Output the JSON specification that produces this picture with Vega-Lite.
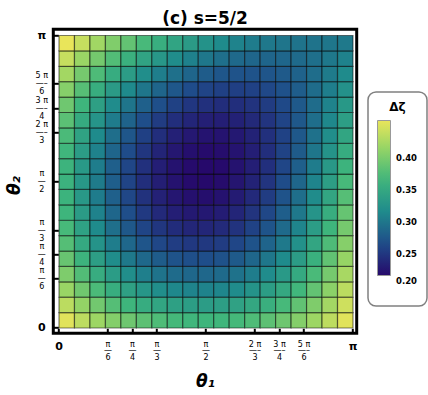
{
"$schema": "https://vega.github.io/schema/vega-lite/v6.json",
"width": 303.4, "height": 304,
"autosize": {"type": "none"},
"padding": {"left": 53.3, "top": 29.3, "right": 71.3, "bottom": 61.7},
"background": "#ffffff",
"title": {"text": "(c)  s=5/2", "font": "DejaVu Sans", "fontSize": 17, "fontWeight": "bold", "color": "#000", "anchor": "middle", "baseline": "alphabetic", "frame": "group", "offset": 5.5, "dy": 17},
"data": {"values": [
{"t1":0,"t2":0,"v":0.4378},{"t1":0,"t2":0.0526,"v":0.418},{"t1":0,"t2":0.1053,"v":0.4006},{"t1":0,"t2":0.1579,"v":0.3856},{"t1":0,"t2":0.2105,"v":0.3729},{"t1":0,"t2":0.2632,"v":0.3626},{"t1":0,"t2":0.3158,"v":0.3547},{"t1":0,"t2":0.3684,"v":0.3491},{"t1":0,"t2":0.4211,"v":0.346},{"t1":0,"t2":0.4737,"v":0.3451},{"t1":0,"t2":0.5263,"v":0.3467},{"t1":0,"t2":0.5789,"v":0.3506},{"t1":0,"t2":0.6316,"v":0.3569},{"t1":0,"t2":0.6842,"v":0.3656},{"t1":0,"t2":0.7368,"v":0.3767},{"t1":0,"t2":0.7895,"v":0.3901},{"t1":0,"t2":0.8421,"v":0.4059},{"t1":0,"t2":0.8947,"v":0.4241},{"t1":0,"t2":0.9474,"v":0.4446},
{"t1":0.0526,"t2":0,"v":0.4192},{"t1":0.0526,"t2":0.0526,"v":0.397},{"t1":0.0526,"t2":0.1053,"v":0.3773},{"t1":0.0526,"t2":0.1579,"v":0.3604},{"t1":0.0526,"t2":0.2105,"v":0.3461},{"t1":0.0526,"t2":0.2632,"v":0.3344},{"t1":0.0526,"t2":0.3158,"v":0.3254},{"t1":0.0526,"t2":0.3684,"v":0.319},{"t1":0.0526,"t2":0.4211,"v":0.3153},{"t1":0.0526,"t2":0.4737,"v":0.3142},{"t1":0.0526,"t2":0.5263,"v":0.3158},{"t1":0.0526,"t2":0.5789,"v":0.32},{"t1":0.0526,"t2":0.6316,"v":0.3269},{"t1":0.0526,"t2":0.6842,"v":0.3365},{"t1":0.0526,"t2":0.7368,"v":0.3486},{"t1":0.0526,"t2":0.7895,"v":0.3635},{"t1":0.0526,"t2":0.8421,"v":0.381},{"t1":0.0526,"t2":0.8947,"v":0.4011},{"t1":0.0526,"t2":0.9474,"v":0.4239},
{"t1":0.1053,"t2":0,"v":0.4028},{"t1":0.1053,"t2":0.0526,"v":0.3784},{"t1":0.1053,"t2":0.1053,"v":0.3569},{"t1":0.1053,"t2":0.1579,"v":0.3383},{"t1":0.1053,"t2":0.2105,"v":0.3225},{"t1":0.1053,"t2":0.2632,"v":0.3096},{"t1":0.1053,"t2":0.3158,"v":0.2997},{"t1":0.1053,"t2":0.3684,"v":0.2926},{"t1":0.1053,"t2":0.4211,"v":0.2883},{"t1":0.1053,"t2":0.4737,"v":0.287},{"t1":0.1053,"t2":0.5263,"v":0.2885},{"t1":0.1053,"t2":0.5789,"v":0.2929},{"t1":0.1053,"t2":0.6316,"v":0.3002},{"t1":0.1053,"t2":0.6842,"v":0.3104},{"t1":0.1053,"t2":0.7368,"v":0.3235},{"t1":0.1053,"t2":0.7895,"v":0.3394},{"t1":0.1053,"t2":0.8421,"v":0.3583},{"t1":0.1053,"t2":0.8947,"v":0.38},{"t1":0.1053,"t2":0.9474,"v":0.4045},
{"t1":0.1579,"t2":0,"v":0.3886},{"t1":0.1579,"t2":0.0526,"v":0.3624},{"t1":0.1579,"t2":0.1053,"v":0.3393},{"t1":0.1579,"t2":0.1579,"v":0.3193},{"t1":0.1579,"t2":0.2105,"v":0.3023},{"t1":0.1579,"t2":0.2632,"v":0.2884},{"t1":0.1579,"t2":0.3158,"v":0.2776},{"t1":0.1579,"t2":0.3684,"v":0.2698},{"t1":0.1579,"t2":0.4211,"v":0.2651},{"t1":0.1579,"t2":0.4737,"v":0.2635},{"t1":0.1579,"t2":0.5263,"v":0.2649},{"t1":0.1579,"t2":0.5789,"v":0.2694},{"t1":0.1579,"t2":0.6316,"v":0.2769},{"t1":0.1579,"t2":0.6842,"v":0.2876},{"t1":0.1579,"t2":0.7368,"v":0.3012},{"t1":0.1579,"t2":0.7895,"v":0.318},{"t1":0.1579,"t2":0.8421,"v":0.3378},{"t1":0.1579,"t2":0.8947,"v":0.3607},{"t1":0.1579,"t2":0.9474,"v":0.3866},
{"t1":0.2105,"t2":0,"v":0.3765},{"t1":0.2105,"t2":0.0526,"v":0.3489},{"t1":0.2105,"t2":0.1053,"v":0.3246},{"t1":0.2105,"t2":0.1579,"v":0.3034},{"t1":0.2105,"t2":0.2105,"v":0.2854},{"t1":0.2105,"t2":0.2632,"v":0.2707},{"t1":0.2105,"t2":0.3158,"v":0.2591},{"t1":0.2105,"t2":0.3684,"v":0.2508},{"t1":0.2105,"t2":0.4211,"v":0.2456},{"t1":0.2105,"t2":0.4737,"v":0.2436},{"t1":0.2105,"t2":0.5263,"v":0.2449},{"t1":0.2105,"t2":0.5789,"v":0.2493},{"t1":0.2105,"t2":0.6316,"v":0.257},{"t1":0.2105,"t2":0.6842,"v":0.2678},{"t1":0.2105,"t2":0.7368,"v":0.2819},{"t1":0.2105,"t2":0.7895,"v":0.2991},{"t1":0.2105,"t2":0.8421,"v":0.3196},{"t1":0.2105,"t2":0.8947,"v":0.3432},{"t1":0.2105,"t2":0.9474,"v":0.3701},
{"t1":0.2632,"t2":0,"v":0.3667},{"t1":0.2632,"t2":0.0526,"v":0.338},{"t1":0.2632,"t2":0.1053,"v":0.3127},{"t1":0.2632,"t2":0.1579,"v":0.2907},{"t1":0.2632,"t2":0.2105,"v":0.2719},{"t1":0.2632,"t2":0.2632,"v":0.2564},{"t1":0.2632,"t2":0.3158,"v":0.2443},{"t1":0.2632,"t2":0.3684,"v":0.2354},{"t1":0.2632,"t2":0.4211,"v":0.2298},{"t1":0.2632,"t2":0.4737,"v":0.2275},{"t1":0.2632,"t2":0.5263,"v":0.2285},{"t1":0.2632,"t2":0.5789,"v":0.2328},{"t1":0.2632,"t2":0.6316,"v":0.2404},{"t1":0.2632,"t2":0.6842,"v":0.2512},{"t1":0.2632,"t2":0.7368,"v":0.2654},{"t1":0.2632,"t2":0.7895,"v":0.2828},{"t1":0.2632,"t2":0.8421,"v":0.3036},{"t1":0.2632,"t2":0.8947,"v":0.3276},{"t1":0.2632,"t2":0.9474,"v":0.3549},
{"t1":0.3158,"t2":0,"v":0.359},{"t1":0.3158,"t2":0.0526,"v":0.3297},{"t1":0.3158,"t2":0.1053,"v":0.3037},{"t1":0.3158,"t2":0.1579,"v":0.281},{"t1":0.3158,"t2":0.2105,"v":0.2617},{"t1":0.3158,"t2":0.2632,"v":0.2457},{"t1":0.3158,"t2":0.3158,"v":0.233},{"t1":0.3158,"t2":0.3684,"v":0.2237},{"t1":0.3158,"t2":0.4211,"v":0.2177},{"t1":0.3158,"t2":0.4737,"v":0.2151},{"t1":0.3158,"t2":0.5263,"v":0.2158},{"t1":0.3158,"t2":0.5789,"v":0.2198},{"t1":0.3158,"t2":0.6316,"v":0.2271},{"t1":0.3158,"t2":0.6842,"v":0.2378},{"t1":0.3158,"t2":0.7368,"v":0.2518},{"t1":0.3158,"t2":0.7895,"v":0.2691},{"t1":0.3158,"t2":0.8421,"v":0.2898},{"t1":0.3158,"t2":0.8947,"v":0.3138},{"t1":0.3158,"t2":0.9474,"v":0.3412},
{"t1":0.3684,"t2":0,"v":0.3536},{"t1":0.3684,"t2":0.0526,"v":0.3239},{"t1":0.3684,"t2":0.1053,"v":0.2975},{"t1":0.3684,"t2":0.1579,"v":0.2745},{"t1":0.3684,"t2":0.2105,"v":0.2548},{"t1":0.3684,"t2":0.2632,"v":0.2385},{"t1":0.3684,"t2":0.3158,"v":0.2254},{"t1":0.3684,"t2":0.3684,"v":0.2158},{"t1":0.3684,"t2":0.4211,"v":0.2094},{"t1":0.3684,"t2":0.4737,"v":0.2064},{"t1":0.3684,"t2":0.5263,"v":0.2067},{"t1":0.3684,"t2":0.5789,"v":0.2103},{"t1":0.3684,"t2":0.6316,"v":0.2172},{"t1":0.3684,"t2":0.6842,"v":0.2275},{"t1":0.3684,"t2":0.7368,"v":0.2411},{"t1":0.3684,"t2":0.7895,"v":0.2581},{"t1":0.3684,"t2":0.8421,"v":0.2783},{"t1":0.3684,"t2":0.8947,"v":0.3019},{"t1":0.3684,"t2":0.9474,"v":0.3289},
{"t1":0.4211,"t2":0,"v":0.3503},{"t1":0.4211,"t2":0.0526,"v":0.3206},{"t1":0.4211,"t2":0.1053,"v":0.2942},{"t1":0.4211,"t2":0.1579,"v":0.2711},{"t1":0.4211,"t2":0.2105,"v":0.2513},{"t1":0.4211,"t2":0.2632,"v":0.2347},{"t1":0.4211,"t2":0.3158,"v":0.2215},{"t1":0.4211,"t2":0.3684,"v":0.2115},{"t1":0.4211,"t2":0.4211,"v":0.2048},{"t1":0.4211,"t2":0.4737,"v":0.2013},{"t1":0.4211,"t2":0.5263,"v":0.2012},{"t1":0.4211,"t2":0.5789,"v":0.2043},{"t1":0.4211,"t2":0.6316,"v":0.2107},{"t1":0.4211,"t2":0.6842,"v":0.2204},{"t1":0.4211,"t2":0.7368,"v":0.2333},{"t1":0.4211,"t2":0.7895,"v":0.2496},{"t1":0.4211,"t2":0.8421,"v":0.2691},{"t1":0.4211,"t2":0.8947,"v":0.2919},{"t1":0.4211,"t2":0.9474,"v":0.318},
{"t1":0.4737,"t2":0,"v":0.3492},{"t1":0.4737,"t2":0.0526,"v":0.3199},{"t1":0.4737,"t2":0.1053,"v":0.2938},{"t1":0.4737,"t2":0.1579,"v":0.2708},{"t1":0.4737,"t2":0.2105,"v":0.2511},{"t1":0.4737,"t2":0.2632,"v":0.2345},{"t1":0.4737,"t2":0.3158,"v":0.2211},{"t1":0.4737,"t2":0.3684,"v":0.2109},{"t1":0.4737,"t2":0.4211,"v":0.2039},{"t1":0.4737,"t2":0.4737,"v":0.2},{"t1":0.4737,"t2":0.5263,"v":0.1993},{"t1":0.4737,"t2":0.5789,"v":0.2018},{"t1":0.4737,"t2":0.6316,"v":0.2075},{"t1":0.4737,"t2":0.6842,"v":0.2164},{"t1":0.4737,"t2":0.7368,"v":0.2284},{"t1":0.4737,"t2":0.7895,"v":0.2437},{"t1":0.4737,"t2":0.8421,"v":0.2621},{"t1":0.4737,"t2":0.8947,"v":0.2837},{"t1":0.4737,"t2":0.9474,"v":0.3084},
{"t1":0.5263,"t2":0,"v":0.3503},{"t1":0.5263,"t2":0.0526,"v":0.3217},{"t1":0.5263,"t2":0.1053,"v":0.2962},{"t1":0.5263,"t2":0.1579,"v":0.2737},{"t1":0.5263,"t2":0.2105,"v":0.2542},{"t1":0.5263,"t2":0.2632,"v":0.2378},{"t1":0.5263,"t2":0.3158,"v":0.2244},{"t1":0.5263,"t2":0.3684,"v":0.214},{"t1":0.5263,"t2":0.4211,"v":0.2067},{"t1":0.5263,"t2":0.4737,"v":0.2024},{"t1":0.5263,"t2":0.5263,"v":0.2011},{"t1":0.5263,"t2":0.5789,"v":0.2029},{"t1":0.5263,"t2":0.6316,"v":0.2077},{"t1":0.5263,"t2":0.6842,"v":0.2156},{"t1":0.5263,"t2":0.7368,"v":0.2264},{"t1":0.5263,"t2":0.7895,"v":0.2404},{"t1":0.5263,"t2":0.8421,"v":0.2573},{"t1":0.5263,"t2":0.8947,"v":0.2773},{"t1":0.5263,"t2":0.9474,"v":0.3003},
{"t1":0.5789,"t2":0,"v":0.3535},{"t1":0.5789,"t2":0.0526,"v":0.326},{"t1":0.5789,"t2":0.1053,"v":0.3014},{"t1":0.5789,"t2":0.1579,"v":0.2796},{"t1":0.5789,"t2":0.2105,"v":0.2606},{"t1":0.5789,"t2":0.2632,"v":0.2445},{"t1":0.5789,"t2":0.3158,"v":0.2312},{"t1":0.5789,"t2":0.3684,"v":0.2208},{"t1":0.5789,"t2":0.4211,"v":0.2132},{"t1":0.5789,"t2":0.4737,"v":0.2085},{"t1":0.5789,"t2":0.5263,"v":0.2065},{"t1":0.5789,"t2":0.5789,"v":0.2075},{"t1":0.5789,"t2":0.6316,"v":0.2113},{"t1":0.5789,"t2":0.6842,"v":0.2179},{"t1":0.5789,"t2":0.7368,"v":0.2273},{"t1":0.5789,"t2":0.7895,"v":0.2396},{"t1":0.5789,"t2":0.8421,"v":0.2548},{"t1":0.5789,"t2":0.8947,"v":0.2728},{"t1":0.5789,"t2":0.9474,"v":0.2936},
{"t1":0.6316,"t2":0,"v":0.359},{"t1":0.6316,"t2":0.0526,"v":0.333},{"t1":0.6316,"t2":0.1053,"v":0.3095},{"t1":0.6316,"t2":0.1579,"v":0.2887},{"t1":0.6316,"t2":0.2105,"v":0.2704},{"t1":0.6316,"t2":0.2632,"v":0.2548},{"t1":0.6316,"t2":0.3158,"v":0.2417},{"t1":0.6316,"t2":0.3684,"v":0.2313},{"t1":0.6316,"t2":0.4211,"v":0.2235},{"t1":0.6316,"t2":0.4737,"v":0.2182},{"t1":0.6316,"t2":0.5263,"v":0.2156},{"t1":0.6316,"t2":0.5789,"v":0.2156},{"t1":0.6316,"t2":0.6316,"v":0.2182},{"t1":0.6316,"t2":0.6842,"v":0.2233},{"t1":0.6316,"t2":0.7368,"v":0.2311},{"t1":0.6316,"t2":0.7895,"v":0.2415},{"t1":0.6316,"t2":0.8421,"v":0.2545},{"t1":0.6316,"t2":0.8947,"v":0.2701},{"t1":0.6316,"t2":0.9474,"v":0.2883},
{"t1":0.6842,"t2":0,"v":0.3667},{"t1":0.6842,"t2":0.0526,"v":0.3424},{"t1":0.6842,"t2":0.1053,"v":0.3205},{"t1":0.6842,"t2":0.1579,"v":0.3009},{"t1":0.6842,"t2":0.2105,"v":0.2835},{"t1":0.6842,"t2":0.2632,"v":0.2686},{"t1":0.6842,"t2":0.3158,"v":0.2559},{"t1":0.6842,"t2":0.3684,"v":0.2455},{"t1":0.6842,"t2":0.4211,"v":0.2375},{"t1":0.6842,"t2":0.4737,"v":0.2317},{"t1":0.6842,"t2":0.5263,"v":0.2283},{"t1":0.6842,"t2":0.5789,"v":0.2272},{"t1":0.6842,"t2":0.6316,"v":0.2284},{"t1":0.6842,"t2":0.6842,"v":0.2319},{"t1":0.6842,"t2":0.7368,"v":0.2378},{"t1":0.6842,"t2":0.7895,"v":0.246},{"t1":0.6842,"t2":0.8421,"v":0.2565},{"t1":0.6842,"t2":0.8947,"v":0.2692},{"t1":0.6842,"t2":0.9474,"v":0.2844},
{"t1":0.7368,"t2":0,"v":0.3766},{"t1":0.7368,"t2":0.0526,"v":0.3544},{"t1":0.7368,"t2":0.1053,"v":0.3343},{"t1":0.7368,"t2":0.1579,"v":0.3162},{"t1":0.7368,"t2":0.2105,"v":0.3},{"t1":0.7368,"t2":0.2632,"v":0.2858},{"t1":0.7368,"t2":0.3158,"v":0.2736},{"t1":0.7368,"t2":0.3684,"v":0.2634},{"t1":0.7368,"t2":0.4211,"v":0.2551},{"t1":0.7368,"t2":0.4737,"v":0.2489},{"t1":0.7368,"t2":0.5263,"v":0.2446},{"t1":0.7368,"t2":0.5789,"v":0.2423},{"t1":0.7368,"t2":0.6316,"v":0.242},{"t1":0.7368,"t2":0.6842,"v":0.2437},{"t1":0.7368,"t2":0.7368,"v":0.2474},{"t1":0.7368,"t2":0.7895,"v":0.253},{"t1":0.7368,"t2":0.8421,"v":0.2606},{"t1":0.7368,"t2":0.8947,"v":0.2703},{"t1":0.7368,"t2":0.9474,"v":0.2819},
{"t1":0.7895,"t2":0,"v":0.3886},{"t1":0.7895,"t2":0.0526,"v":0.369},{"t1":0.7895,"t2":0.1053,"v":0.351},{"t1":0.7895,"t2":0.1579,"v":0.3346},{"t1":0.7895,"t2":0.2105,"v":0.3198},{"t1":0.7895,"t2":0.2632,"v":0.3066},{"t1":0.7895,"t2":0.3158,"v":0.295},{"t1":0.7895,"t2":0.3684,"v":0.285},{"t1":0.7895,"t2":0.4211,"v":0.2766},{"t1":0.7895,"t2":0.4737,"v":0.2698},{"t1":0.7895,"t2":0.5263,"v":0.2646},{"t1":0.7895,"t2":0.5789,"v":0.261},{"t1":0.7895,"t2":0.6316,"v":0.259},{"t1":0.7895,"t2":0.6842,"v":0.2586},{"t1":0.7895,"t2":0.7368,"v":0.2598},{"t1":0.7895,"t2":0.7895,"v":0.2627},{"t1":0.7895,"t2":0.8421,"v":0.2671},{"t1":0.7895,"t2":0.8947,"v":0.2731},{"t1":0.7895,"t2":0.9474,"v":0.2807},
{"t1":0.8421,"t2":0,"v":0.4028},{"t1":0.8421,"t2":0.0526,"v":0.3861},{"t1":0.8421,"t2":0.1053,"v":0.3705},{"t1":0.8421,"t2":0.1579,"v":0.3561},{"t1":0.8421,"t2":0.2105,"v":0.3429},{"t1":0.8421,"t2":0.2632,"v":0.3308},{"t1":0.8421,"t2":0.3158,"v":0.3199},{"t1":0.8421,"t2":0.3684,"v":0.3102},{"t1":0.8421,"t2":0.4211,"v":0.3017},{"t1":0.8421,"t2":0.4737,"v":0.2943},{"t1":0.8421,"t2":0.5263,"v":0.2882},{"t1":0.8421,"t2":0.5789,"v":0.2832},{"t1":0.8421,"t2":0.6316,"v":0.2793},{"t1":0.8421,"t2":0.6842,"v":0.2767},{"t1":0.8421,"t2":0.7368,"v":0.2752},{"t1":0.8421,"t2":0.7895,"v":0.2749},{"t1":0.8421,"t2":0.8421,"v":0.2758},{"t1":0.8421,"t2":0.8947,"v":0.2778},{"t1":0.8421,"t2":0.9474,"v":0.281},
{"t1":0.8947,"t2":0,"v":0.4193},{"t1":0.8947,"t2":0.0526,"v":0.4057},{"t1":0.8947,"t2":0.1053,"v":0.3929},{"t1":0.8947,"t2":0.1579,"v":0.3808},{"t1":0.8947,"t2":0.2105,"v":0.3693},{"t1":0.8947,"t2":0.2632,"v":0.3586},{"t1":0.8947,"t2":0.3158,"v":0.3485},{"t1":0.8947,"t2":0.3684,"v":0.3392},{"t1":0.8947,"t2":0.4211,"v":0.3306},{"t1":0.8947,"t2":0.4737,"v":0.3226},{"t1":0.8947,"t2":0.5263,"v":0.3154},{"t1":0.8947,"t2":0.5789,"v":0.3089},{"t1":0.8947,"t2":0.6316,"v":0.303},{"t1":0.8947,"t2":0.6842,"v":0.2979},{"t1":0.8947,"t2":0.7368,"v":0.2934},{"t1":0.8947,"t2":0.7895,"v":0.2897},{"t1":0.8947,"t2":0.8421,"v":0.2867},{"t1":0.8947,"t2":0.8947,"v":0.2844},{"t1":0.8947,"t2":0.9474,"v":0.2827},
{"t1":0.9474,"t2":0,"v":0.4379},{"t1":0.9474,"t2":0.0526,"v":0.4279},{"t1":0.9474,"t2":0.1053,"v":0.4181},{"t1":0.9474,"t2":0.1579,"v":0.4085},{"t1":0.9474,"t2":0.2105,"v":0.3991},{"t1":0.9474,"t2":0.2632,"v":0.3898},{"t1":0.9474,"t2":0.3158,"v":0.3808},{"t1":0.9474,"t2":0.3684,"v":0.3719},{"t1":0.9474,"t2":0.4211,"v":0.3632},{"t1":0.9474,"t2":0.4737,"v":0.3546},{"t1":0.9474,"t2":0.5263,"v":0.3463},{"t1":0.9474,"t2":0.5789,"v":0.3381},{"t1":0.9474,"t2":0.6316,"v":0.3301},{"t1":0.9474,"t2":0.6842,"v":0.3222},{"t1":0.9474,"t2":0.7368,"v":0.3146},{"t1":0.9474,"t2":0.7895,"v":0.3071},{"t1":0.9474,"t2":0.8421,"v":0.2999},{"t1":0.9474,"t2":0.8947,"v":0.2928},{"t1":0.9474,"t2":0.9474,"v":0.2858}
]},
"mark": {"type": "rect", "stroke": "#000", "strokeOpacity": 0.5, "strokeWidth": 1.2},
"encoding": {
"x": {"field": "t1", "type": "quantitative", "bin": {"binned": true, "step": 0.052632},
 "scale": {"domain": [-0.0177, 1.0143], "nice": false, "zero": false},
 "axis": {"values": [0, 0.16667, 0.25, 0.33333, 0.5, 0.66667, 0.75, 0.83333, 1],
  "labelExpr": "datum.value<0.01 ? '0' : datum.value>0.99 ? 'π' : abs(datum.value-0.5)<0.01 ? ['π','—','2'] : abs(datum.value-0.16667)<0.01 ? ['π','—','6'] : abs(datum.value-0.25)<0.01 ? ['π','—','4'] : abs(datum.value-0.33333)<0.01 ? ['π','—','3'] : abs(datum.value-0.66667)<0.01 ? ['2 π','—–','3'] : abs(datum.value-0.75)<0.01 ? ['3 π','—–','4'] : ['5 π','—–','6']",
  "labelBaseline": "top", "labelAlign": "center", "labelPadding": 12, "labelLineHeight": 6.5,
  "labelFontSize": {"condition": {"test": "datum.value<0.01 || datum.value>0.99", "value": 11}, "value": 8},
  "labelFontWeight": {"condition": {"test": "datum.value<0.01 || datum.value>0.99", "value": "bold"}, "value": "normal"},
  "title": "θ₁", "titleFontSize": 17, "titleFontWeight": "bold", "titleFontStyle": "italic",
  "titleX": 151.7, "titleY": 53.2, "titleBaseline": "alphabetic", "titleAlign": "center"}},
"y": {"field": "t2", "type": "quantitative", "bin": {"binned": true, "step": 0.052632},
 "scale": {"domain": [-0.0198, 1.0195], "nice": false, "zero": false},
 "axis": {"values": [0, 0.16667, 0.25, 0.33333, 0.5, 0.66667, 0.75, 0.83333, 1],
  "labelExpr": "datum.value<0.01 ? '0' : datum.value>0.99 ? 'π' : abs(datum.value-0.5)<0.01 ? ['π','—','2'] : abs(datum.value-0.16667)<0.01 ? ['π','—','6'] : abs(datum.value-0.25)<0.01 ? ['π','—','4'] : abs(datum.value-0.33333)<0.01 ? ['π','—','3'] : abs(datum.value-0.66667)<0.01 ? ['2 π','—–','3'] : abs(datum.value-0.75)<0.01 ? ['3 π','—–','4'] : ['5 π','—–','6']",
  "labelBaseline": "middle", "labelAlign": "center", "labelPadding": 17, "labelLineHeight": 8,
  "labelOffset": {"condition": {"test": "datum.value<0.01 || datum.value>0.99", "value": 0}, "value": -8},
  "labelFontSize": {"condition": {"test": "datum.value<0.01 || datum.value>0.99", "value": 11}, "value": 8},
  "labelFontWeight": {"condition": {"test": "datum.value<0.01 || datum.value>0.99", "value": "bold"}, "value": "normal"},
  "title": "θ₂", "titleFontSize": 17, "titleFontWeight": "bold", "titleFontStyle": "italic",
  "titleX": -33.8, "titleY": 155.7, "titleBaseline": "alphabetic", "titleAlign": "center", "titleAngle": 270}},
"color": {"field": "v", "type": "quantitative",
 "scale": {"domain": [0.2, 0.25, 0.3, 0.35, 0.4, 0.442], "range": ["#26096b", "#1f4d8a", "#1f8b8c", "#3fb67c", "#98d565", "#e9e55a"], "interpolate": "rgb", "clamp": true},
 "legend": {"orient": "none", "legendX": 314.7, "legendY": 62.7, "title": "Δζ", "values": [0.2, 0.25, 0.3, 0.35, 0.4], "format": ".2f",
  "direction": "vertical", "gradientLength": 155, "gradientThickness": 13, "padding": 9.5,
  "titlePadding": 7, "titleAnchor": "middle", "titleFontSize": 12, "titleFontWeight": "bold",
  "labelFontSize": 8.5, "labelFontWeight": "bold", "labelOffset": 5.5, "labelOverlap": false, "labelFlush": false,
  "labelExpr": "['', datum.label, '']",
  "strokeColor": "#808080", "cornerRadius": 8, "fillColor": "#ffffff",
  "gradientStrokeColor": "#999999", "gradientStrokeWidth": 1}}
},
"config": {
"font": "DejaVu Sans",
"view": {"stroke": "#000", "strokeWidth": 3},
"axis": {"domain": false, "grid": false, "ticks": true, "tickColor": "#000", "tickWidth": 2, "tickSize": -5,
 "labelColor": "#000", "labelFont": "DejaVu Sans", "titleColor": "#000", "titleFont": "DejaVu Sans", "labelOverlap": false, "labelBound": false, "labelFlush": false},
"legend": {"labelColor": "#000", "titleColor": "#000", "labelFont": "DejaVu Sans", "titleFont": "DejaVu Sans", "strokeWidth": 1.5}
}
}
